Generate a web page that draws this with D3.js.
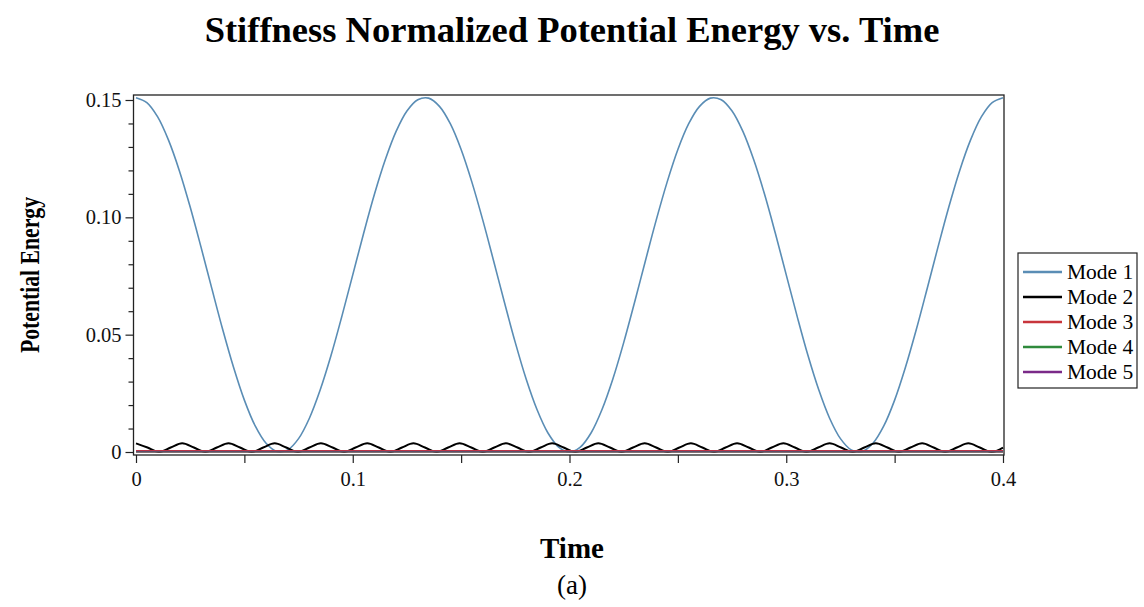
<!DOCTYPE html>
<html>
<head>
<meta charset="utf-8">
<script src="https://cdnjs.cloudflare.com/ajax/libs/d3/7.8.5/d3.min.js"></script>
<style>
  html, body { margin: 0; padding: 0; background: #fff; }
  svg { display: block; font-family: 'Liberation Serif', 'Times New Roman', serif; }
</style>
</head>
<body>
<svg id="chart" width="1144" height="607"></svg>
<script>
var seriesNames = ['Mode 1', 'Mode 2', 'Mode 3', 'Mode 4', 'Mode 5'];
var seriesColors = ['#5a8db5', '#000000', '#c8353c', '#2f8a3c', '#7a2a88'];

var xTicks = [0, 0.1, 0.2, 0.3, 0.4];
var xMinorTicks = [0.05, 0.15, 0.25, 0.35];
var yTicks = [0, 0.05, 0.10, 0.15];
var yTickLabels = ['0', '0.05', '0.10', '0.15'];

// mode 1, read every 0.005 s
var mode1Time = [
  0, 0.005, 0.01, 0.015, 0.02, 0.025, 0.03, 0.035, 0.04, 0.045,
  0.05, 0.055, 0.06, 0.065, 0.07, 0.075, 0.08, 0.085, 0.09, 0.095,
  0.1, 0.105, 0.11, 0.115, 0.12, 0.125, 0.13, 0.135, 0.14, 0.145,
  0.15, 0.155, 0.16, 0.165, 0.17, 0.175, 0.18, 0.185, 0.19, 0.195,
  0.2, 0.205, 0.21, 0.215, 0.22, 0.225, 0.23, 0.235, 0.24, 0.245,
  0.25, 0.255, 0.26, 0.265, 0.27, 0.275, 0.28, 0.285, 0.29, 0.295,
  0.3, 0.305, 0.31, 0.315, 0.32, 0.325, 0.33, 0.335, 0.34, 0.345,
  0.35, 0.355, 0.36, 0.365, 0.37, 0.375, 0.38, 0.385, 0.39, 0.395,
  0.4
];
var mode1Energy = [
  0.151, 0.1489, 0.1428, 0.1329, 0.1199, 0.1044, 0.0873, 0.0696, 0.0522, 0.0361,
  0.0221, 0.0111, 0.0037, 0.0002, 0.0009, 0.0057, 0.0144, 0.0265, 0.0412, 0.0579,
  0.0755, 0.0931, 0.1098, 0.1245, 0.1366, 0.1453, 0.1501, 0.1508, 0.1473, 0.1399,
  0.1289, 0.1149, 0.0988, 0.0814, 0.0637, 0.0466, 0.0311, 0.0181, 0.0082, 0.0021,
  0.0000, 0.0021, 0.0082, 0.0181, 0.0311, 0.0466, 0.0637, 0.0814, 0.0988, 0.1149,
  0.1289, 0.1399, 0.1473, 0.1508, 0.1501, 0.1453, 0.1366, 0.1245, 0.1098, 0.0931,
  0.0755, 0.0579, 0.0412, 0.0265, 0.0144, 0.0057, 0.0009, 0.0002, 0.0037, 0.0111,
  0.0221, 0.0361, 0.0522, 0.0696, 0.0873, 0.1044, 0.1199, 0.1329, 0.1428, 0.1489,
  0.151
];

// mode 2, read at peaks, half heights and zeros of the small bumps
var mode2Time = [
  0, 0.0053, 0.0107, 0.016, 0.0213, 0.0267, 0.032, 0.0373, 0.0427, 0.048,
  0.0533, 0.0587, 0.064, 0.0693, 0.0747, 0.08, 0.0853, 0.0907, 0.096, 0.1013,
  0.1067, 0.112, 0.1173, 0.1227, 0.128, 0.1333, 0.1387, 0.144, 0.1493, 0.1547,
  0.16, 0.1653, 0.1707, 0.176, 0.1813, 0.1867, 0.192, 0.1973, 0.2027, 0.208,
  0.2133, 0.2187, 0.224, 0.2293, 0.2347, 0.24, 0.2453, 0.2507, 0.256, 0.2613,
  0.2667, 0.272, 0.2773, 0.2827, 0.288, 0.2933, 0.2987, 0.304, 0.3093, 0.3147,
  0.32, 0.3253, 0.3307, 0.336, 0.3413, 0.3467, 0.352, 0.3573, 0.3627, 0.368,
  0.3733, 0.3787, 0.384, 0.3893, 0.3947, 0.4
];
var mode2Energy = [
  0.0037, 0.0019, 0, 0.0019, 0.0037, 0.0019, 0, 0.0019, 0.0037, 0.0019,
  0, 0.0019, 0.0037, 0.0019, 0, 0.0019, 0.0037, 0.0019, 0, 0.0019,
  0.0037, 0.0019, 0, 0.0019, 0.0037, 0.0019, 0, 0.0019, 0.0037, 0.0019,
  0, 0.0019, 0.0037, 0.0019, 0, 0.0019, 0.0037, 0.0019, 0, 0.0019,
  0.0037, 0.0019, 0, 0.0019, 0.0037, 0.0019, 0, 0.0019, 0.0037, 0.0019,
  0, 0.0019, 0.0037, 0.0019, 0, 0.0019, 0.0037, 0.0019, 0, 0.0019,
  0.0037, 0.0019, 0, 0.0019, 0.0037, 0.0019, 0, 0.0019, 0.0037, 0.0019,
  0, 0.0019, 0.0037, 0.0019, 0, 0.0019
];

// modes 3 to 5 stay on the zero line
var lowModeTime = [0, 0.05, 0.1, 0.15, 0.2, 0.25, 0.3, 0.35, 0.4];
var mode3Energy = [0.0003, 0.0003, 0.0003, 0.0003, 0.0003, 0.0003, 0.0003, 0.0003, 0.0003];
var mode4Energy = [0.0001, 0.0001, 0.0001, 0.0001, 0.0001, 0.0001, 0.0001, 0.0001, 0.0001];
var mode5Energy = [0.0002, 0.0002, 0.0002, 0.0002, 0.0002, 0.0002, 0.0002, 0.0002, 0.0002];

function energyChart(id) {

  (function init() {

    draw(id, transform());
  })();

  function zip(times, values) {

    return times.map(function (t, i) { return { t: t, v: values[i] }; });
  }

  function transform() {

    var lists = [
      zip(mode1Time, mode1Energy),
      zip(mode2Time, mode2Energy),
      zip(lowModeTime, mode3Energy),
      zip(lowModeTime, mode4Energy),
      zip(lowModeTime, mode5Energy)
    ];

    return seriesNames.map(function (name, i) {
      return { name: name, color: seriesColors[i], values: lists[i] };
    });
  }

  function draw(id, data) {

    var svg = d3.select('#' + id);

    var x = d3.scaleLinear().domain([0, 0.4]).range([136, 1003]);
    var y = d3.scaleLinear().domain([0, 0.15]).range([452, 100]);

    // minor y ticks every 0.01, skipping the labelled ones
    var yMinor = d3.range(1, 15)
      .filter(function (i) { return i % 5 !== 0; })
      .map(function (i) { return i / 100; });

    var box = { left: x(0) - 2.5, right: x(0.4) + 1, top: 95, bottom: y(0) + 3 };

    // title and labels
    svg.append('text')
        .attr('x', 572)
        .attr('y', 42)
        .attr('text-anchor', 'middle')
        .attr('font-size', 36.5)
        .attr('font-weight', 'bold')
        .text('Stiffness Normalized Potential Energy vs. Time');

    svg.append('text')
        .attr('transform', 'translate(39,275) rotate(-90)')
        .attr('text-anchor', 'middle')
        .attr('font-size', 28)
        .attr('font-weight', 'bold')
        .attr('textLength', 156)
        .attr('lengthAdjust', 'spacingAndGlyphs')
        .text('Potential Energy');

    svg.append('text')
        .attr('x', 572)
        .attr('y', 558)
        .attr('text-anchor', 'middle')
        .attr('font-size', 29)
        .attr('font-weight', 'bold')
        .text('Time');

    svg.append('text')
        .attr('x', 572)
        .attr('y', 594)
        .attr('text-anchor', 'middle')
        .attr('font-size', 27)
        .text('(a)');

    // curves
    var line = d3.line()
        .x(function (d) { return x(d.t); })
        .y(function (d) { return y(d.v); })
        .curve(d3.curveCatmullRom.alpha(0.5));

    var widths = [1.6, 2, 2.4, 1.6, 1.8];
    var opacities = [1, 1, 1, 1, 0.6];

    svg.append('g')
      .selectAll('path')
      .data(data)
      .enter().append('path')
        .attr('d', function (d) { return line(d.values); })
        .attr('fill', 'none')
        .attr('stroke', function (d) { return d.color; })
        .attr('stroke-width', function (d, i) { return widths[i]; })
        .attr('stroke-opacity', function (d, i) { return opacities[i]; })
        .attr('stroke-linejoin', 'round');

    // box
    svg.append('rect')
        .attr('x', box.left)
        .attr('y', box.top)
        .attr('width', box.right - box.left)
        .attr('height', box.bottom - box.top)
        .attr('fill', 'none')
        .attr('stroke', '#222')
        .attr('stroke-width', 1.3);

    // axes
    var xAxis = svg.append('g')
        .attr('transform', 'translate(0,' + box.bottom + ')')
        .call(d3.axisBottom(x).tickValues(xTicks).tickSize(8).tickPadding(8)
          .tickFormat(function (d) { return d === 0 ? '0' : d3.format('.1f')(d); }));

    xAxis.select('.domain').remove();

    svg.append('g')
        .attr('transform', 'translate(0,' + box.bottom + ')')
        .call(d3.axisBottom(x).tickValues(xMinorTicks).tickSize(8).tickFormat(''))
        .select('.domain').remove();

    var yAxis = svg.append('g')
        .attr('transform', 'translate(' + box.left + ',0)')
        .call(d3.axisLeft(y).tickValues(yTicks).tickSize(8).tickPadding(4)
          .tickFormat(function (d, i) { return yTickLabels[i]; }));

    yAxis.select('.domain').remove();

    svg.append('g')
        .attr('transform', 'translate(' + box.left + ',0)')
        .call(d3.axisLeft(y).tickValues(yMinor).tickSize(5).tickFormat(''))
        .select('.domain').remove();

    svg.selectAll('.tick line').attr('stroke', '#222').attr('stroke-width', 1.2);
    svg.selectAll('.tick text')
        .attr('font-family', "'Liberation Serif', 'Times New Roman', serif")
        .attr('font-size', 20.5)
        .attr('fill', '#111');

    // legend
    svg.append('rect')
        .attr('x', 1018)
        .attr('y', 253)
        .attr('width', 119)
        .attr('height', 135)
        .attr('fill', '#fff')
        .attr('stroke', '#222')
        .attr('stroke-width', 1.2);

    var legend = svg.append('g')
        .attr('font-size', 21.5)
      .selectAll('g')
      .data(data)
      .enter().append('g')
        .attr('transform', function (d, i) {
          return 'translate(1023,' + (272 + i * 25) + ')';
        });

    legend.append('line')
        .attr('x1', 0)
        .attr('x2', 39)
        .attr('stroke', function (d) { return d.color; })
        .attr('stroke-width', 2.5);

    legend.append('text')
        .attr('x', 44)
        .attr('y', 7)
        .text(function (d) { return d.name; });
  }
}

energyChart('chart');
</script>
</body>
</html>
